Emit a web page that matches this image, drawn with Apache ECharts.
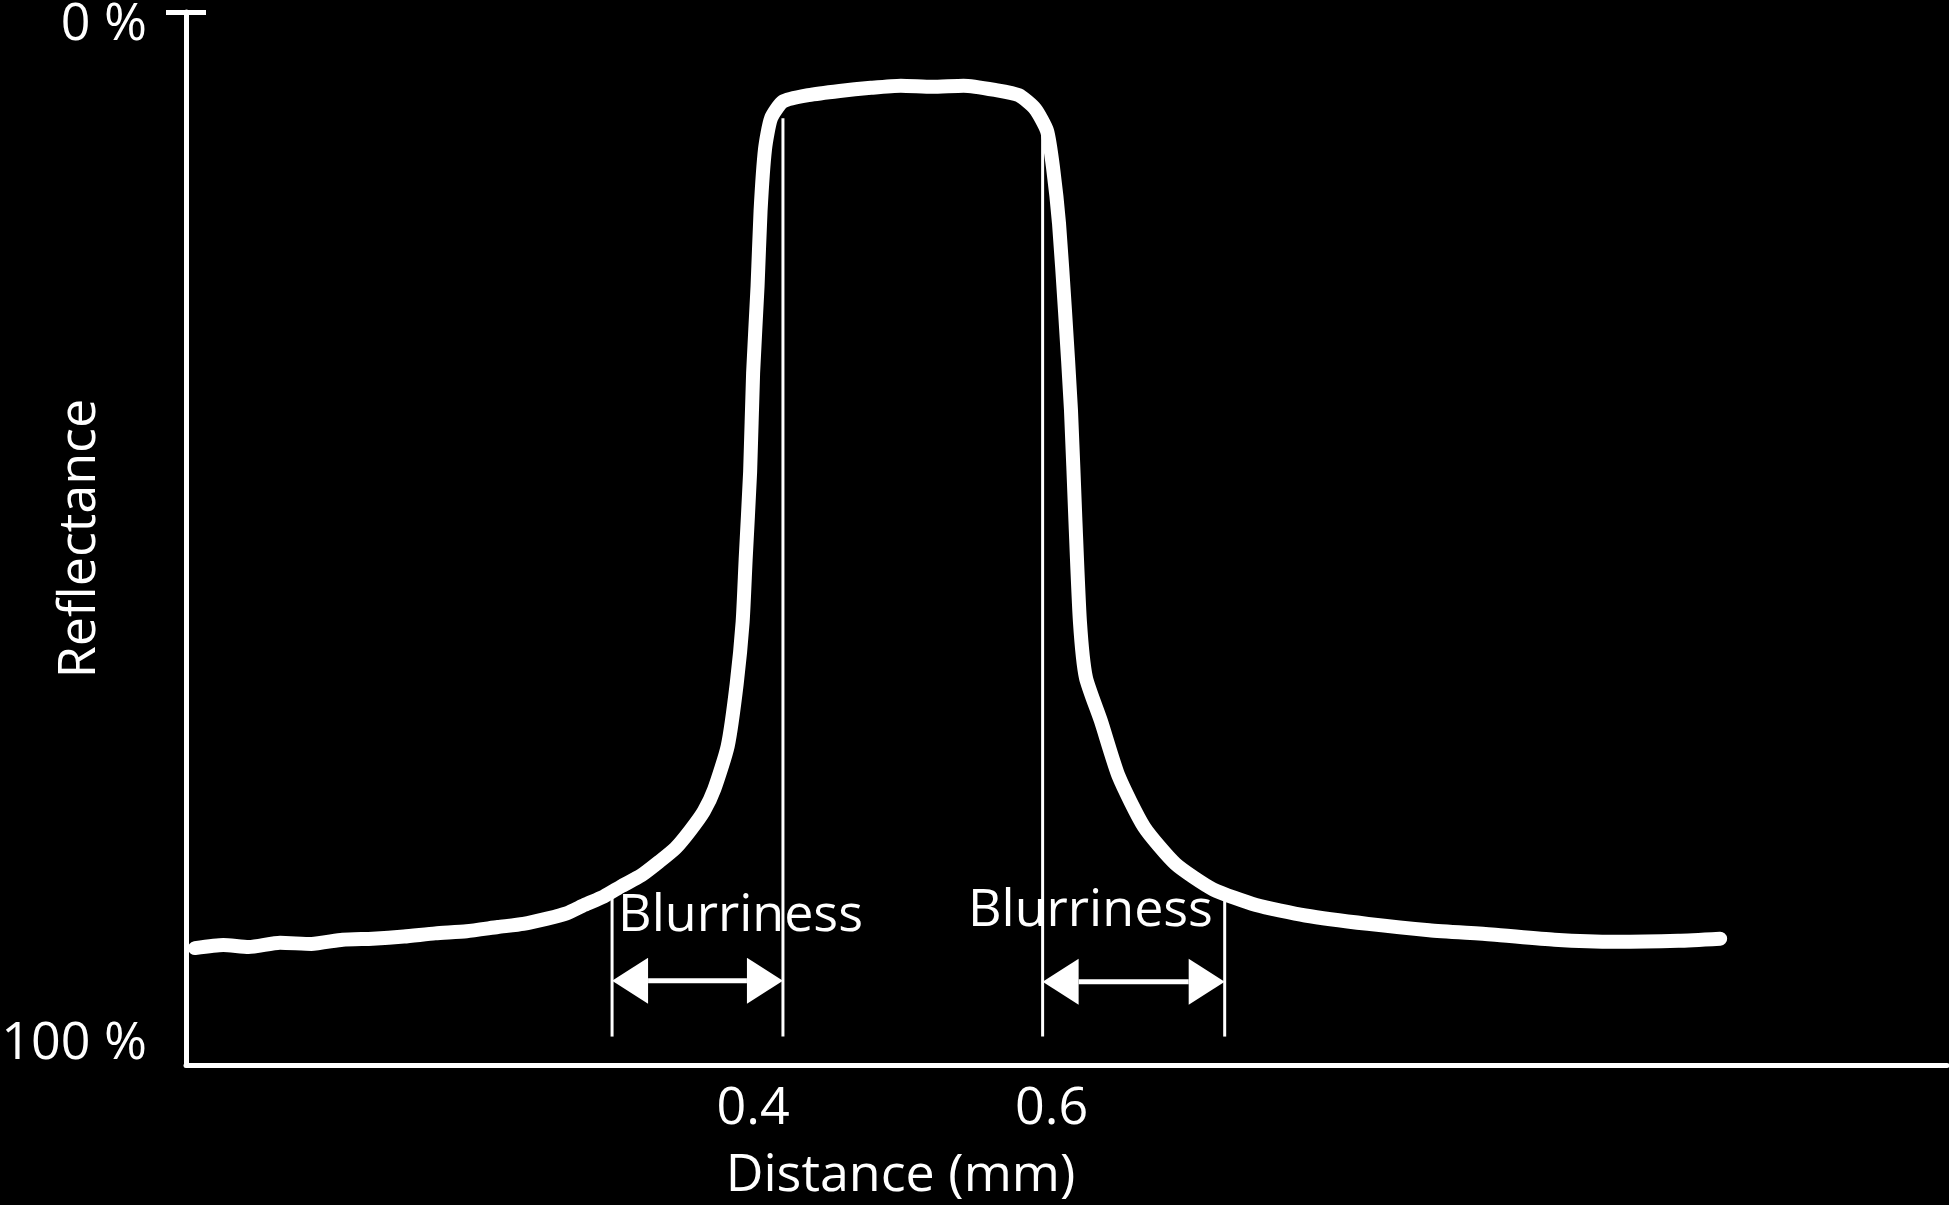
<!DOCTYPE html>
<html>
<head>
<meta charset="utf-8">
<script src="https://cdn.jsdelivr.net/npm/echarts@6/dist/echarts.min.js"></script>
<style>
  html, body { margin: 0; padding: 0; background: #000; }
  #chart { width: 1949px; height: 1205px; }
</style>
</head>
<body>
<div id="chart"></div>
<script>
// Distance (mm) and reflectance (%; 0 % at top, 100 % at bottom)
const distance = [0.026, 0.045, 0.062, 0.083, 0.104, 0.125, 0.145, 0.166, 0.187, 0.208,
  0.229, 0.246, 0.262, 0.275, 0.287, 0.300, 0.312, 0.325, 0.337, 0.348,
  0.358, 0.367, 0.374, 0.383, 0.389, 0.393, 0.395, 0.398, 0.400, 0.403,
  0.405, 0.408, 0.412, 0.420, 0.437, 0.458, 0.479, 0.499, 0.520, 0.541,
  0.562, 0.578, 0.589, 0.597, 0.601, 0.605, 0.609, 0.613, 0.616, 0.619,
  0.623, 0.633, 0.645, 0.662, 0.683, 0.708, 0.737, 0.770, 0.812, 0.853,
  0.895, 0.937, 0.978, 1.020, 1.048];
const reflectance = [88.9, 88.6, 88.8, 88.4, 88.5, 88.1, 88.0, 87.8, 87.5, 87.3,
  86.9, 86.6, 86.1, 85.6, 84.8, 84.0, 83.0, 82.0, 80.7, 79.4,
  77.7, 75.9, 73.8, 69.7, 63.8, 57.9, 52.0, 43.7, 34.3, 26.0,
  18.9, 13.0, 10.1, 8.5, 7.9, 7.5, 7.2, 7.0, 7.1, 7.0,
  7.4, 7.9, 9.2, 11.3, 14.8, 20.1, 28.4, 37.8, 48.4, 57.9,
  63.2, 67.3, 72.6, 77.4, 80.9, 83.3, 84.8, 85.8, 86.6, 87.2,
  87.6, 88.1, 88.3, 88.2, 88.0];

const xTickLabels = [0.4, 0.6];
const yTickLabels = [0, 100];

// Annotation marks in data units
const guideX = [0.3055, 0.420, 0.594, 0.716];
const guideTop = [83.7, 10.1, 10.6, 84.3];
const guideBottom = [97.3, 97.3, 97.3, 97.3];
const arrowFrom = [0.3055, 0.594];
const arrowTo = [0.420, 0.716];
const arrowY = [92.0, 92.1];
const labelX = [0.3095, 0.544];
const labelY = [85.9, 85.4];
const labelText = ['Blurriness', 'Blurriness'];

const FONT = '"Open Sans", "Noto Sans", sans-serif';
const FS = 52;

const curve = distance.map((d, i) => [d, reflectance[i]]);
const guides = guideX.map((x, i) => [x, guideTop[i], guideBottom[i]]);
const arrows = arrowFrom.map((x, i) => [x, arrowTo[i], arrowY[i]]);
const labels = labelX.map((x, i) => [x, labelY[i], labelText[i]]);

const chart = echarts.init(document.getElementById('chart'), null, { renderer: 'canvas' });

const yBase = {
  type: 'value', min: 0, max: 100, inverse: true, position: 'left',
  splitLine: { show: false }
};

chart.setOption({
  backgroundColor: '#000',
  animation: false,
  grid: { left: 186, right: 2, top: 12, bottom: 140, containLabel: false, outerBoundsMode: 'none' },
  xAxis: {
    type: 'value', min: 0.02, max: 1.2, position: 'bottom',
    name: 'Distance (mm)', nameLocation: 'middle', nameGap: 85, nameMoveOverlap: false,
    nameTextStyle: { color: '#fff', fontSize: FS, fontFamily: FONT, padding: [0, 332, 0, 0] },
    axisLine: { show: true, onZero: false, lineStyle: { color: '#fff', width: 5 } },
    axisTick: { show: false },
    splitLine: { show: false },
    axisLabel: {
      customValues: xTickLabels, color: '#fff', fontSize: FS, fontFamily: FONT, margin: 18,
      formatter: v => v.toFixed(1)
    }
  },
  yAxis: [
    Object.assign({}, yBase, {
      name: 'Reflectance', nameLocation: 'middle', nameGap: 80, nameRotate: 90, nameMoveOverlap: false,
      nameTextStyle: { color: '#fff', fontSize: FS, fontFamily: FONT },
      axisLine: { show: true, onZero: false, lineStyle: { color: '#fff', width: 5 } },
      axisTick: { show: true, customValues: [yTickLabels[0]], length: 20, lineStyle: { color: '#fff', width: 5 } },
      axisLabel: {
        customValues: yTickLabels, margin: 39, color: '#fff',
        formatter: v => (v === yTickLabels[0] ? '{a|' + v + ' %}' : '{b|' + v + ' %}'),
        rich: {
          a: { color: '#fff', fontSize: FS, fontFamily: FONT, padding: [26, 0, 0, 0] },
          b: { color: '#fff', fontSize: FS, fontFamily: FONT, padding: [0, 0, 42, 0] }
        }
      }
    }),
    Object.assign({}, yBase, {
      axisLine: { show: false, onZero: false },
      axisTick: { show: true, inside: true, customValues: [yTickLabels[0]], length: 20, lineStyle: { color: '#fff', width: 5 } },
      axisLabel: { show: false }
    })
  ],
  series: [
    {
      type: 'line', data: curve, showSymbol: false, smooth: 0.2,
      lineStyle: { color: '#fff', width: 14, join: 'round', cap: 'round' },
      z: 3
    },
    {
      type: 'custom', data: guides, z: 2,
      encode: { x: 0, y: [1, 2] },
      renderItem: (params, api) => {
        const p1 = api.coord([api.value(0), api.value(1)]);
        const p2 = api.coord([api.value(0), api.value(2)]);
        return { type: 'line', shape: { x1: p1[0], y1: p1[1], x2: p2[0], y2: p2[1] },
          style: { stroke: '#fff', lineWidth: 3 } };
      }
    },
    {
      type: 'custom', data: arrows, z: 2,
      encode: { x: [0, 1], y: 2 },
      renderItem: (params, api) => {
        const a = api.coord([api.value(0), api.value(2)]);
        const b = api.coord([api.value(1), api.value(2)]);
        const L = 36, H = 23, y = a[1];
        return { type: 'group', children: [
          { type: 'line', shape: { x1: a[0] + L, y1: y, x2: b[0] - L, y2: y }, style: { stroke: '#fff', lineWidth: 5 } },
          { type: 'polygon', shape: { points: [[a[0], y], [a[0] + L, y - H], [a[0] + L, y + H]] }, style: { fill: '#fff' } },
          { type: 'polygon', shape: { points: [[b[0], y], [b[0] - L, y - H], [b[0] - L, y + H]] }, style: { fill: '#fff' } }
        ] };
      }
    },
    {
      type: 'custom', data: labels, z: 4,
      encode: { x: 0, y: 1 },
      renderItem: (params, api) => {
        const p = api.coord([api.value(0), api.value(1)]);
        return { type: 'text', x: p[0], y: p[1],
          style: { text: labelText[params.dataIndex], fill: '#fff', fontSize: FS, fontFamily: FONT,
            align: 'left', verticalAlign: 'middle' } };
      }
    }
  ]
});
</script>
</body>
</html>
